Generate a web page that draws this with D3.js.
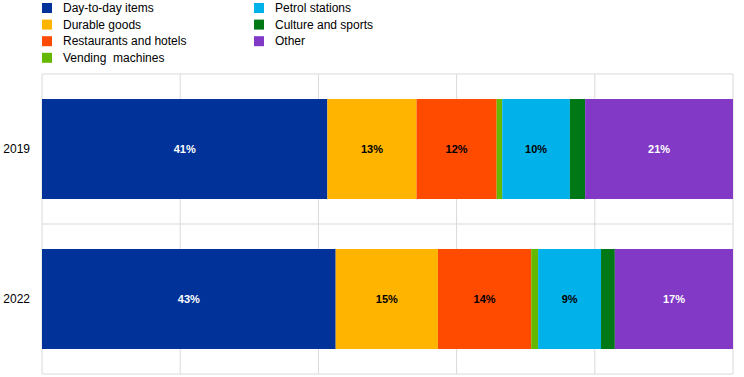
<!DOCTYPE html>
<html>
<head>
<meta charset="utf-8">
<script src="https://cdn.jsdelivr.net/npm/d3@7"></script>
<style>
  body { margin: 0; background: #fff; }
  svg { display: block; font-family: Arial, "Liberation Sans", sans-serif; }
</style>
</head>
<body>
<div id="chart"></div>
<script>
// Shares of spending by category (percent)
const years = ["2019", "2022"]
const categories = ["Day-to-day items", "Durable goods", "Restaurants and hotels",
  "Vending  machines", "Petrol stations", "Culture and sports", "Other"]
const colors = ["#003299", "#ffb400", "#ff4b00", "#65b800", "#00b1ea", "#007816", "#8139c6"]
const values2019 = [41.3, 12.9, 11.6, 0.8, 9.8, 2.2, 21.4]
const values2022 = [42.5, 14.8, 13.5, 1.0, 9.1, 2.0, 17.1]
const xTicks = [0, 20, 40, 60, 80, 100]

const W = 744, H = 377
const margin = {top: 74, right: 11, bottom: 3, left: 42}
const width = W - margin.left - margin.right,
      height = H - margin.top - margin.bottom

const svg = d3.select("#chart")
  .append("svg")
    .attr("width", W)
    .attr("height", H)

const g = svg.append("g")
    .attr("transform", `translate(${margin.left},${margin.top})`)

const x = d3.scaleLinear().domain([0, 100]).range([0, width])
const y = d3.scaleBand().domain(years).range([0, height]).paddingInner(0).paddingOuter(0)

// build the stacked rows
const rows = years.map((yr, i) => {
  const vals = i === 0 ? values2019 : values2022
  const row = {year: yr}
  categories.forEach((c, j) => row[c] = vals[j])
  return row
})
const series = d3.stack().keys(categories)(rows)

// gridlines
g.append("g")
  .selectAll("line")
  .data(xTicks)
  .join("line")
    .attr("x1", d => x(d)).attr("x2", d => x(d))
    .attr("y1", 0).attr("y2", height)
    .attr("stroke", "#d9d9d9")
    .attr("stroke-width", 1)

g.append("g")
  .selectAll("line")
  .data([0, ...years.map(d => y(d) + y.bandwidth())])
  .join("line")
    .attr("x1", 0).attr("x2", width)
    .attr("y1", d => d).attr("y2", d => d)
    .attr("stroke", "#d9d9d9")
    .attr("stroke-width", 1)

const barH = 100
const barOff = (y.bandwidth() - barH) / 2

// bars
const layer = g.append("g")
  .selectAll("g")
  .data(series)
  .join("g")
    .attr("fill", (d, i) => colors[i])

layer.selectAll("rect")
  .data(d => d)
  .join("rect")
    .attr("x", d => x(d[0]))
    .attr("y", d => y(d.data.year) + barOff)
    .attr("width", d => x(d[1]) - x(d[0]))
    .attr("height", barH)

// value labels for the bigger segments
series.forEach((s, i) => {
  g.append("g")
    .selectAll("text")
    .data(s.filter(d => d[1] - d[0] >= 5))
    .join("text")
      .attr("x", d => x((d[0] + d[1]) / 2))
      .attr("y", d => y(d.data.year) + y.bandwidth() / 2)
      .attr("dy", "0.35em")
      .attr("text-anchor", "middle")
      .style("font-size", "11px")
      .style("font-weight", "bold")
      .attr("fill", (i === 0 || i === 6) ? "#ffffff" : "#000000")
      .text(d => Math.round(d[1] - d[0]) + "%")
})

// year labels
g.append("g")
  .selectAll("text")
  .data(years)
  .join("text")
    .attr("x", -12)
    .attr("y", d => y(d) + y.bandwidth() / 2)
    .attr("dy", "0.35em")
    .attr("text-anchor", "end")
    .style("font-size", "12px")
    .attr("fill", "#000")
    .text(d => d)

// legend, two columns
const legend = svg.append("g")
  .selectAll("g")
  .data(categories)
  .join("g")
    .attr("transform", (d, i) => {
      const col = i < 4 ? 0 : 1
      const row = i < 4 ? i : i - 4
      return `translate(${col === 0 ? 42 : 254},${3 + row * 16.6})`
    })

legend.append("rect")
  .attr("width", 10)
  .attr("height", 10)
  .attr("fill", (d, i) => colors[i])

legend.append("text")
  .attr("x", 21)
  .attr("y", 5)
  .attr("dy", "0.35em")
  .style("font-size", "12px")
  .style("white-space", "pre")
  .attr("fill", "#000")
  .text(d => d)
</script>
</body>
</html>
